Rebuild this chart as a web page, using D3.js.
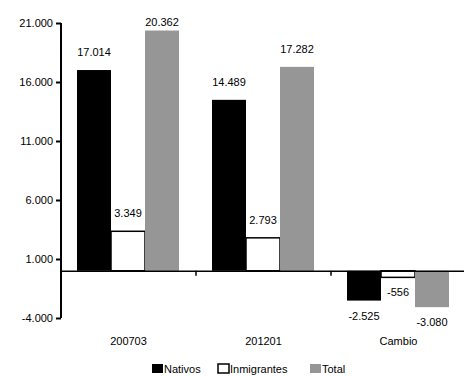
<!DOCTYPE html>
<html><head><meta charset="utf-8">
<script src="https://cdn.jsdelivr.net/npm/d3@7"></script>
<style>body{margin:0;background:#fff;}svg{display:block;font-family:"Liberation Sans",Arial,sans-serif;}</style>
</head><body>
<svg id="c" width="464" height="376"></svg>
<script>
const categories = ["200703", "201201", "Cambio"];
const seriesNames = ["Nativos", "Inmigrantes", "Total"];
const nativos = [17014, 14489, -2525];
const inmigrantes = [3349, 2793, -556];
const total = [20362, 17282, -3080];
const yTicks = [-4000, 1000, 6000, 11000, 16000, 21000];
const colors = ["#000000", "#ffffff", "#969696"];

const series = [nativos, inmigrantes, total];
const fmt = v => d3.format(",")(v).replace(/,/g, ".").replace(/\u2212/g, "-");

const svg = d3.select("#c");
const y = d3.scaleLinear().domain([-4000, 21000]).range([318, 23]);
const x0 = d3.scaleBand().domain(categories).range([61, 466]).paddingInner(0).paddingOuter(0);
const x1 = d3.scaleBand().domain(seriesNames).range([16, 118]);

// y axis
const yAxis = d3.axisLeft(y).tickValues(yTicks).tickSize(5).tickFormat(fmt);
const gy = svg.append("g").attr("transform", "translate(61,0)").call(yAxis);
gy.select(".domain").attr("stroke-width", 2).attr("d", "M0,23V318");
gy.selectAll(".tick line").attr("stroke-width", 2);
gy.selectAll(".tick text").attr("font-size", 11).attr("fill", "#000").attr("x", -8);

// bars
const groups = svg.append("g").selectAll("g").data(categories).join("g")
  .attr("transform", d => `translate(${x0(d)},0)`);
groups.each(function(cat, ci) {
  const g = d3.select(this);
  seriesNames.forEach((s, si) => {
    const v = series[si][ci];
    const top = y(Math.max(0, v)), bot = y(Math.min(0, v));
    g.append("rect")
      .attr("x", x1(s)).attr("width", x1.bandwidth())
      .attr("y", top).attr("height", bot - top)
      .attr("fill", colors[si])
      .attr("stroke", si === 1 ? "#000" : "none")
      .attr("stroke-width", 1.5);
    const ly = v >= 0 ? Math.max(top - 14, 26) : bot + 19;
    g.append("text")
      .attr("x", x1(s) + x1.bandwidth() / 2).attr("y", ly)
      .attr("text-anchor", "middle").attr("font-size", 11).attr("fill", "#000")
      .text(fmt(v));
  });
});

// x axis at zero
const xAxis = d3.axisBottom(x0).tickSize(0).tickFormat("");
const gx = svg.append("g").attr("transform", `translate(0,${y(0)})`).call(xAxis);
gx.select(".domain").attr("stroke-width", 1.5);
gx.selectAll(".tick").remove();
// boundary ticks
svg.append("g").selectAll("line").data(categories.slice(1)).join("line")
  .attr("x1", d => x0(d)).attr("x2", d => x0(d))
  .attr("y1", y(0)).attr("y2", y(0) + 5)
  .attr("stroke", "#000").attr("stroke-width", 1.5);
// category labels
svg.append("g").selectAll("text").data(categories).join("text")
  .attr("x", d => x0(d) + x0.bandwidth() / 2).attr("y", 345)
  .attr("text-anchor", "middle").attr("font-size", 11).text(d => d);

// legend
const legX = [152, 218, 310];
const lg = svg.append("g").selectAll("g").data(seriesNames).join("g")
  .attr("transform", (d, i) => `translate(${legX[i]},364)`);
lg.append("rect").attr("width", 11).attr("height", 9)
  .attr("fill", (d, i) => colors[i])
  .attr("stroke", (d, i) => i === 1 ? "#000" : "none").attr("stroke-width", 1.5);
lg.append("text").attr("x", 12).attr("y", 9).attr("font-size", 11).text(d => d);
</script>
</body></html>
